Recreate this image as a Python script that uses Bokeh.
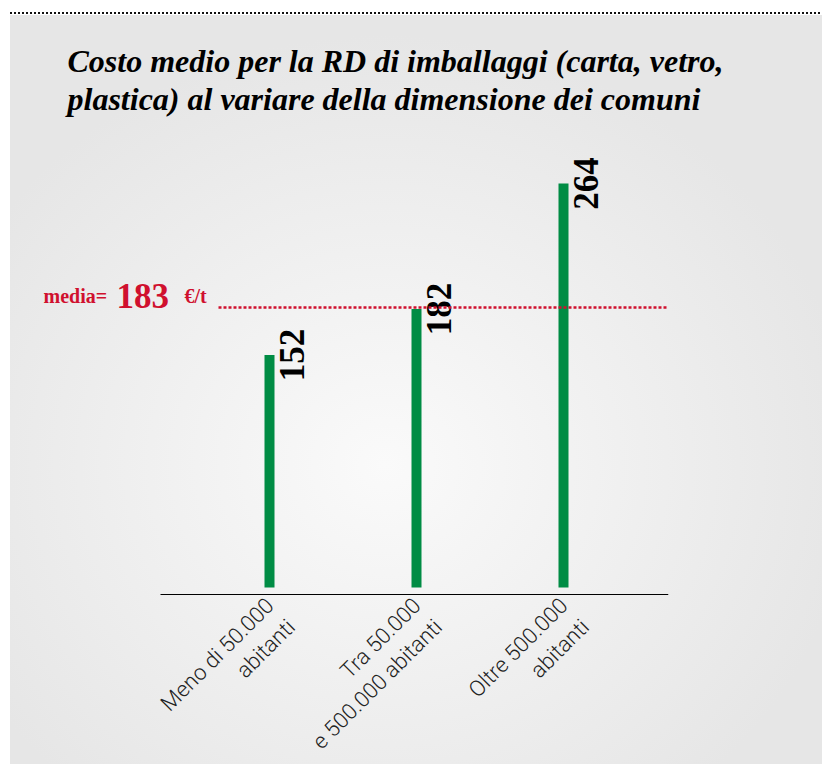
import math
from bokeh.plotting import figure
from bokeh.models import Range1d, Label, FixedTicker
from bokeh.core.properties import value
from bokeh.embed import file_html
from bokeh.resources import INLINE

# ---- data ----
categories = ["Meno di 50.000\nabitanti", "Tra 50.000\ne 500.000 abitanti", "Oltre 500.000\nabitanti"]
costs = [152, 182, 264]
media = 183
media_unit = "€/t"
title_text = "Costo medio per la RD di imballaggi (carta, vetro,\nplastica) al variare della dimensione dei comuni"

# ---- style / layout ----
GREEN = "#008C44"
RED = "#D0102E"
W, H = 822, 764
FL, FR, FT, FB = 30, 668, 130, 764          # frame edges (pixels)
ML, MR, MT, MB = FL, W - FR, FT, H - FB
frame_w = FR - FL
frame_h = FB - FT
px_x = 147.0
first_center = 269
x_start = -(first_center - FL) / px_x
x_end = x_start + frame_w / px_x
px_y = 1.53
zero_px = 587
y_start = -(FB - zero_px) / px_y
y_end = y_start + frame_h / px_y
axis_y = -(594 - zero_px) / px_y


def px2x(px):
    return x_start + (px - FL) / px_x


idx = list(range(len(categories)))

p = figure(width=W, height=H, output_backend="svg", toolbar_location=None,
           x_range=Range1d(x_start, x_end), y_range=Range1d(y_start, y_end),
           y_axis_location=None, min_border_left=ML, min_border_right=MR,
           min_border_top=MT, min_border_bottom=MB)
p.border_fill_color = None
p.background_fill_color = None
p.outline_line_color = None
p.grid.visible = False

p.styles = {
    "background-color": "white",
    "background-image": (
        "repeating-linear-gradient(to right, #111 0px, #111 2px, rgba(0,0,0,0) 2px, rgba(0,0,0,0) 4px), "
        "radial-gradient(ellipse 470px 430px at 375px 450px, #fafafa 0%, #e6e6e6 100%)"
    ),
    "background-size": "812px 2px, 812px 749px",
    "background-position": "10px 12px, 10px 15px",
    "background-repeat": "no-repeat, no-repeat",
}

# title
p.title.text = title_text
p.title.text_font = "Liberation Serif"
p.title.text_font_style = "bold italic"
p.title.text_font_size = "32px"
p.title.text_line_height = 1.05
p.title.text_color = "black"
p.title.align = "left"
p.title.offset = 67 - FL
p.title.standoff = 27

# bars
p.vbar(x=idx, top=costs, bottom=0, width=10 / px_x, fill_color=GREEN, line_color=None)

# value labels
p.text(x=idx, y=costs, text=[str(c) for c in costs], angle=math.pi / 2,
       text_align="center", text_baseline="top", x_offset=10,
       text_font=value("Liberation Serif"), text_font_style="bold",
       text_font_size="35px", text_color="black")

# mean line
p.segment(x0=[px2x(218)], y0=[media], x1=[x_end], y1=[media],
          line_color=RED, line_width=2.5, line_dash="3 2")


def add_label(txt, px, size):
    p.add_layout(Label(x=px2x(px), y=media, text=txt, y_offset=12,
                       text_font="Liberation Serif", text_font_style="bold",
                       text_font_size=size, text_color=RED,
                       text_baseline="alphabetic", text_align="left"))


add_label("media=", 43, "20px")
add_label(str(media), 116, "35px")
add_label(media_unit, 184, "20px")

# x axis
tick_shift = 0.075
ticks = [i + tick_shift for i in idx]
ax = p.xaxis[0]
ax.fixed_location = axis_y
ax.ticker = FixedTicker(ticks=ticks)
ax.major_label_overrides = {t: c for t, c in zip(ticks, categories)}
ax.bounds = (px2x(160), x_end)
ax.axis_line_color = "black"
ax.axis_line_width = 1
ax.major_tick_line_color = None
ax.minor_tick_line_color = None
ax.major_tick_out = 6
ax.major_label_orientation = math.pi / 4
ax.major_label_text_font = "Roboto Light"
ax.major_label_text_font_size = "22px"
ax.major_label_text_color = "#222222"
ax.major_label_standoff = 12

open("out.html", "w").write(file_html(p, INLINE))
